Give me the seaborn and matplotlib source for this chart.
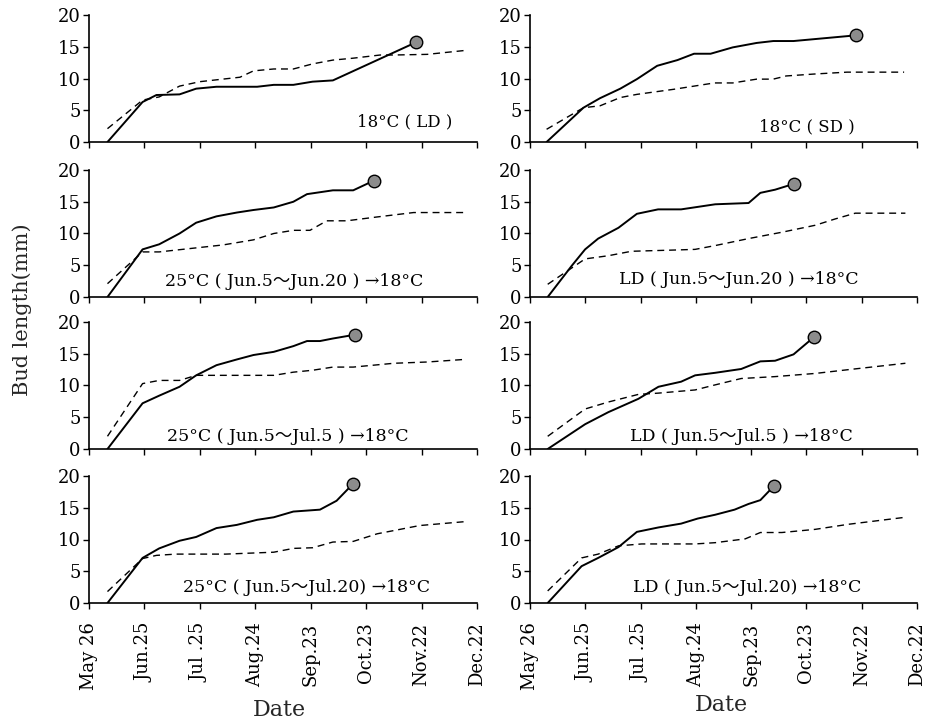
import matplotlib
matplotlib.use("Agg")
import matplotlib.pyplot as plt
import matplotlib.transforms as mtransforms
import seaborn as sns
import pandas as pd

sns.set_theme(style="ticks")
plt.rcParams['font.family'] = ['DejaVu Serif', 'Noto Sans CJK JP']

tick_days = [0, 30, 60, 90, 120, 150, 180, 210]
tick_labels = ["May 26", "Jun.25", "Jul .25", "Aug.24", "Sep.23", "Oct.23", "Nov.22", "Dec.22"]

titles = ["18°C ( LD )", "18°C ( SD )",
          "25°C ( Jun.5～Jun.20 ) →18°C", "LD ( Jun.5～Jun.20 ) →18°C",
          "25°C ( Jun.5～Jul.5 ) →18°C", "LD ( Jun.5～Jul.5 ) →18°C",
          "25°C ( Jun.5～Jul.20) →18°C", "LD ( Jun.5～Jul.20) →18°C"]

# panel 1: 18C LD
p1_solid_x = [10, 29, 36.5, 49, 58, 69, 91, 100, 110.6, 121, 132, 177]
p1_solid_y = [0, 6.3, 7.4, 7.5, 8.4, 8.7, 8.7, 9.0, 9.0, 9.5, 9.7, 15.7]
p1_dash_x = [10, 29, 38, 49, 60, 81.7, 89, 100, 110.6, 121, 132, 143, 157.6, 165, 183, 203]
p1_dash_y = [2.1, 6.6, 7.1, 8.8, 9.5, 10.2, 11.2, 11.5, 11.5, 12.3, 12.9, 13.2, 13.7, 13.7, 13.8, 14.4]
# panel 2: 18C SD
p2_solid_x = [9, 29, 38, 49, 58, 69, 80, 89, 98, 110, 123, 132, 143, 177]
p2_solid_y = [0, 5.4, 6.9, 8.4, 9.9, 12.0, 12.9, 13.9, 13.9, 14.9, 15.6, 15.9, 15.9, 16.8]
p2_dash_x = [9, 29, 38, 49, 58, 78, 89, 100, 110, 123, 132, 139, 154, 172, 203]
p2_dash_y = [2.0, 5.4, 5.7, 7.0, 7.5, 8.3, 8.8, 9.3, 9.3, 9.9, 9.9, 10.4, 10.7, 11.0, 11.0]
# panel 3: 25C Jun5-Jun20
p3_solid_x = [10, 29, 38, 49, 58, 69, 80, 89, 100, 110.6, 118, 132, 143, 154]
p3_solid_y = [0, 7.5, 8.3, 10.0, 11.7, 12.7, 13.3, 13.7, 14.1, 15.0, 16.2, 16.8, 16.8, 18.3]
p3_dash_x = [10, 29, 38, 60, 72.6, 89, 100, 110.6, 119.6, 128.7, 139.5, 155.8, 175.7, 203]
p3_dash_y = [2.1, 7.1, 7.1, 7.8, 8.2, 9.0, 10.0, 10.5, 10.5, 12.0, 12.0, 12.6, 13.3, 13.3]
# panel 4: LD Jun5-Jun20
p4_solid_x = [9.6, 22.6, 29.9, 37, 48, 58, 69.5, 82, 100.5, 118.6, 125, 133, 143]
p4_solid_y = [0, 4.9, 7.5, 9.2, 10.9, 13.1, 13.8, 13.8, 14.6, 14.8, 16.4, 16.9, 17.8]
p4_dash_x = [9.6, 29.9, 42.5, 55, 78.8, 89.6, 100.5, 118.6, 136.7, 154.8, 165.7, 176.5, 203.7]
p4_dash_y = [2.0, 6.0, 6.5, 7.2, 7.4, 7.5, 8.1, 9.2, 10.2, 11.3, 12.3, 13.2, 13.2]
# panel 5: 25C Jun5-Jul5
p5_solid_x = [10, 29, 38, 49, 58, 69, 80, 89, 100, 110.6, 118, 125, 132, 144]
p5_solid_y = [0, 7.2, 8.4, 9.8, 11.6, 13.2, 14.1, 14.8, 15.3, 16.2, 17.0, 17.0, 17.4, 18.0]
p5_dash_x = [10, 29, 38, 49, 58, 69, 89, 100, 110.6, 121, 132, 143, 165, 183, 203]
p5_dash_y = [2.0, 10.3, 10.8, 10.8, 11.6, 11.6, 11.6, 11.6, 12.1, 12.4, 12.9, 12.9, 13.5, 13.7, 14.1]
# panel 6: LD Jun5-Jul5
p6_solid_x = [9.6, 29.9, 42.5, 58.8, 69.7, 82, 89.6, 100.5, 114.6, 125, 133, 143, 154]
p6_solid_y = [0, 3.9, 5.8, 7.9, 9.8, 10.6, 11.6, 12.0, 12.6, 13.8, 13.9, 14.9, 17.6]
p6_dash_x = [9.6, 29.9, 42.5, 58.8, 69.7, 89.6, 100.5, 114.6, 133, 154.8, 172.9, 203.7]
p6_dash_y = [2.0, 6.3, 7.4, 8.6, 8.8, 9.3, 10.1, 11.1, 11.4, 11.9, 12.5, 13.5]
# panel 7: 25C Jun5-Jul20
p7_solid_x = [10, 29, 38, 49, 58, 69, 80, 91, 100, 110.6, 125, 134, 143]
p7_solid_y = [0, 7.1, 8.6, 9.8, 10.4, 11.8, 12.3, 13.1, 13.5, 14.4, 14.7, 16.1, 18.8]
p7_dash_x = [10, 29, 36.5, 47, 74, 100, 110.6, 121, 132, 143, 156, 179, 203]
p7_dash_y = [1.8, 7.0, 7.5, 7.7, 7.7, 8.0, 8.6, 8.7, 9.6, 9.7, 10.9, 12.2, 12.8]
# panel 8: LD Jun5-Jul20
p8_solid_x = [9.6, 28, 37, 48, 58, 69.7, 82, 91, 100.5, 111, 118.6, 125, 132.6]
p8_solid_y = [0, 5.8, 7.1, 8.8, 11.2, 11.9, 12.5, 13.3, 13.9, 14.7, 15.6, 16.2, 18.5]
p8_dash_x = [9.6, 28, 37, 48, 60.6, 89.6, 100.5, 116.8, 125, 136.7, 154.8, 172.9, 203.7]
p8_dash_y = [1.9, 7.1, 7.7, 9.0, 9.3, 9.3, 9.5, 10.1, 11.1, 11.1, 11.6, 12.4, 13.5]

label_pos = [(171, 3.1), (150.5, 2.4), (111, 2.4), (113.5, 2.7),
             (107.5, 1.9), (115, 1.9), (118, 2.4), (118, 2.4)]

panels = [
    (p1_solid_x, p1_solid_y, p1_dash_x, p1_dash_y),
    (p2_solid_x, p2_solid_y, p2_dash_x, p2_dash_y),
    (p3_solid_x, p3_solid_y, p3_dash_x, p3_dash_y),
    (p4_solid_x, p4_solid_y, p4_dash_x, p4_dash_y),
    (p5_solid_x, p5_solid_y, p5_dash_x, p5_dash_y),
    (p6_solid_x, p6_solid_y, p6_dash_x, p6_dash_y),
    (p7_solid_x, p7_solid_y, p7_dash_x, p7_dash_y),
    (p8_solid_x, p8_solid_y, p8_dash_x, p8_dash_y),
]

W, H = 930, 722
fig = plt.figure(figsize=(W / 100, H / 100), dpi=100)
fig.patch.set_facecolor("white")

col_x = [(89, 477), (530, 917)]
row_y = [(15, 142), (170, 297), (322, 449), (476, 603)]

for i, (sx, sy, dx, dy) in enumerate(panels):
    r, c = divmod(i, 2)
    x0, x1 = col_x[c]
    yt, yb = row_y[r]
    ax = fig.add_axes([x0 / W, 1 - yb / H, (x1 - x0) / W, (yb - yt) / H])
    ax.set_facecolor("white")
    sns.lineplot(x=dx, y=dy, ax=ax, color="black", linewidth=1.0,
                 linestyle=(0, (5, 3.5)), sort=False)
    sns.lineplot(x=sx, y=sy, ax=ax, color="black", linewidth=1.4, sort=False)
    ax.plot([sx[-1]], [sy[-1]], marker="o", markersize=9,
            markerfacecolor="#8c8c8c", markeredgecolor="black",
            markeredgewidth=1.0, clip_on=False)
    ax.set_xlim(0, 210)
    ax.set_ylim(0, 20)
    ax.set_yticks([0, 5, 10, 15, 20])
    ax.set_yticklabels(["0", "5", "10", "15", "20"], fontsize=13)
    ax.set_xticks(tick_days)
    if r == 3:
        ax.set_xticklabels(tick_labels, rotation=90, fontsize=13)
        off = mtransforms.ScaledTranslation(5 / 100, 0, fig.dpi_scale_trans)
        for lab in ax.get_xticklabels():
            lab.set_transform(lab.get_transform() + off)
    else:
        ax.set_xticklabels([])
    ax.tick_params(axis="both", direction="out", length=4, width=1.0,
                   colors="black", pad=2)
    ax.tick_params(axis="x", pad=10)
    for s in ["top", "right"]:
        ax.spines[s].set_visible(False)
    for s in ["left", "bottom"]:
        ax.spines[s].set_color("black")
        ax.spines[s].set_linewidth(1.2)
    ax.set_xlabel("")
    ax.set_ylabel("")
    lx, ly = label_pos[i]
    ax.text(lx, ly, titles[i], ha="center", va="center",
            fontsize=12 if i < 2 else 12.5, color="black")

fig.text(22 / W, 1 - 310 / H, "Bud length(mm)", rotation=90, ha="center",
         va="center", fontsize=15)
fig.text(279 / W, 1 - 710 / H, "Date", ha="center", va="center", fontsize=16)
fig.text(721 / W, 1 - 705 / H, "Date", ha="center", va="center", fontsize=16)

fig.savefig("out.png", dpi=100, facecolor="white")
